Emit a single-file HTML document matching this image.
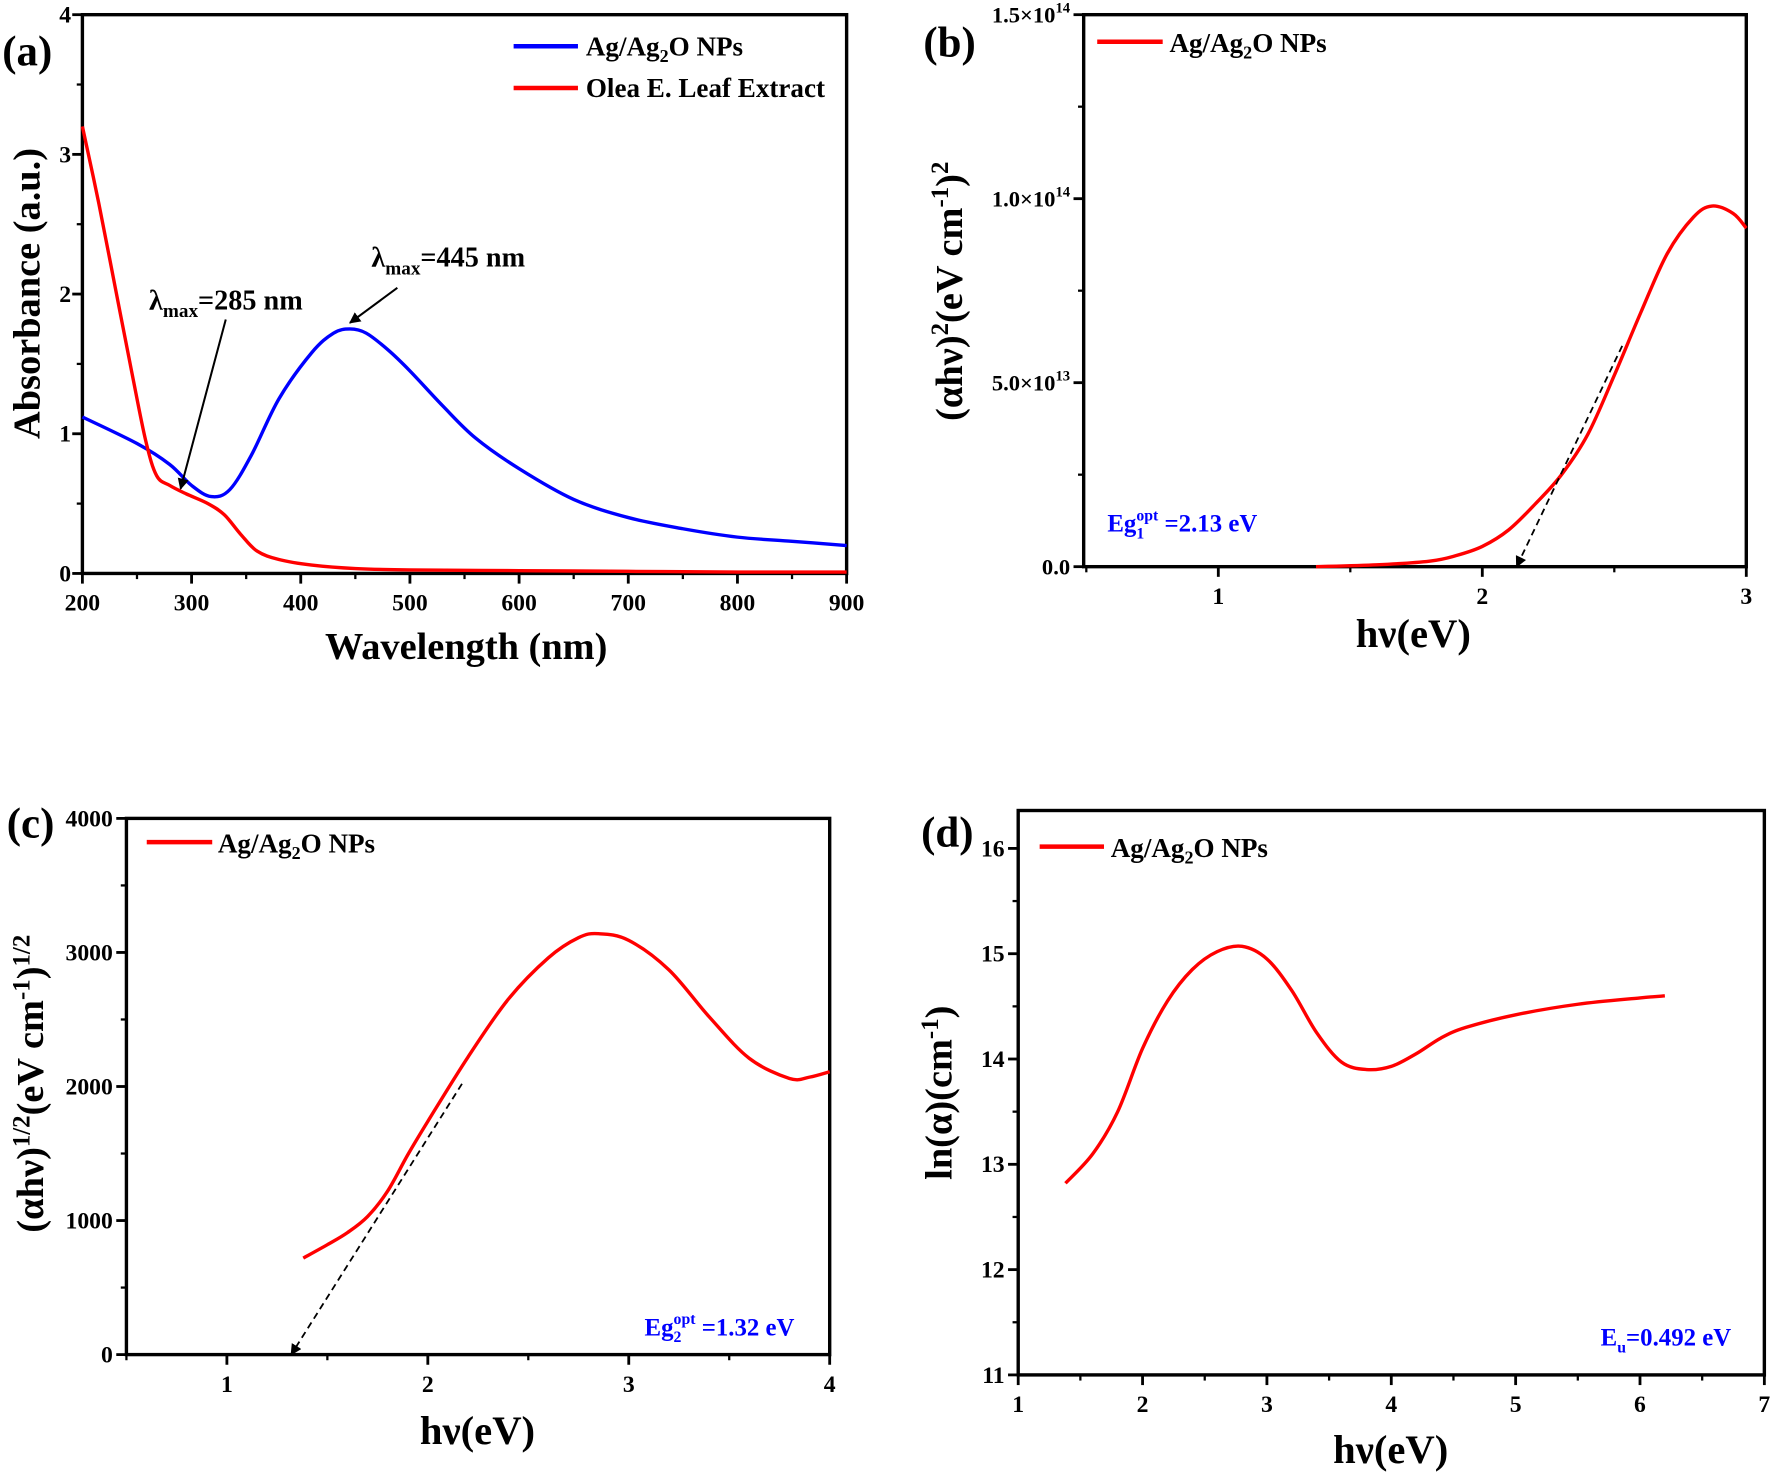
<!DOCTYPE html>
<html><head><meta charset="utf-8"><style>
html,body{margin:0;padding:0;background:#fff}
svg{display:block}
text{font-family:"Liberation Serif",serif;font-weight:bold;fill:#000}
</style></head><body>
<svg id="fig" width="1770" height="1472" viewBox="0 0 1568 1304" xmlns="http://www.w3.org/2000/svg">
<defs>
<marker id="arr" markerWidth="10" markerHeight="10" refX="9" refY="5" orient="auto" markerUnits="userSpaceOnUse"><path d="M0,0 L10,5 L0,10 z" fill="#000"/></marker>
</defs>
</svg>
<script>
// Panel (a) data
const aBlueX=[200,250,280,300,318,335,355,380,410,430,445,460,480,500,530,560,600,650,700,750,800,850,900];
const aBlueY=[1.12,0.93,0.78,0.63,0.55,0.6,0.85,1.25,1.58,1.72,1.75,1.72,1.6,1.45,1.2,0.97,0.75,0.53,0.4,0.32,0.26,0.23,0.2];
const aRedX=[200,215,230,245,258,268,280,295,315,330,345,360,380,410,450,500,600,700,800,900];
const aRedY=[3.2,2.65,2.05,1.45,0.95,0.7,0.63,0.57,0.5,0.42,0.28,0.16,0.1,0.06,0.035,0.025,0.02,0.015,0.01,0.01];
const aXTicks=[200,300,400,500,600,700,800,900];
const aYTicks=[0,1,2,3,4];
// Panel (b) data (units 1e14)
const bX=[1.37,1.6,1.8,1.9,2.0,2.1,2.2,2.3,2.4,2.5,2.6,2.7,2.8,2.87,2.95,3.0];
const bY=[0,0.005,0.015,0.03,0.055,0.1,0.17,0.25,0.36,0.52,0.69,0.85,0.95,0.98,0.96,0.92];
const bXTicks=[1,2,3];
const bYTicks=[0,0.5,1.0,1.5];
const bYLabels=["0.0","5.0×10","1.0×10","1.5×10"];
const bYExp=["","13","14","14"];
// Panel (c) data
const cX=[1.38,1.5,1.6,1.7,1.8,1.9,2.0,2.2,2.4,2.6,2.75,2.85,3.0,3.2,3.4,3.6,3.8,3.9,4.0];
const cY=[720,820,910,1030,1220,1490,1740,2220,2650,2960,3110,3140,3090,2870,2520,2210,2060,2070,2110];
const cXTicks=[1,2,3,4];
const cYTicks=[0,1000,2000,3000,4000];
// Panel (d) data
const dX=[1.38,1.6,1.8,2.0,2.2,2.4,2.6,2.8,3.0,3.2,3.4,3.6,3.8,4.0,4.2,4.4,4.6,5.0,5.5,6.0,6.2];
const dY=[12.82,13.1,13.5,14.1,14.55,14.85,15.02,15.07,14.95,14.65,14.25,13.97,13.9,13.93,14.05,14.2,14.3,14.42,14.52,14.58,14.6];
const dXTicks=[1,2,3,4,5,6,7];
const dYTicks=[11,12,13,14,15,16];

const svg=document.getElementById('fig');
const NS='http://www.w3.org/2000/svg';
function mk(tag,attrs,parent){const e=document.createElementNS(NS,tag);for(const k in attrs)e.setAttribute(k,attrs[k]);(parent||svg).appendChild(e);return e;}
function scale(d0,d1,r0,r1){return v=>r0+(v-d0)/(d1-d0)*(r1-r0);}
function smooth(xs,ys,sx,sy){
  const p=xs.map((x,i)=>[sx(x),sy(ys[i])]);
  let d='M'+p[0][0]+','+p[0][1];
  for(let i=0;i<p.length-1;i++){
    const p0=p[Math.max(0,i-1)],p1=p[i],p2=p[i+1],p3=p[Math.min(p.length-1,i+2)];
    const c1=[p1[0]+(p2[0]-p0[0])/6,p1[1]+(p2[1]-p0[1])/6];
    const c2=[p2[0]-(p3[0]-p1[0])/6,p2[1]-(p3[1]-p1[1])/6];
    d+=' C'+c1+' '+c2+' '+p2;
  }
  return d;
}
function panel(name,L,R,T,B,xd,yd,xt,yt,xminor,yminor){
  const g=mk('g',{});
  
  
  const sx=scale(xd[0],xd[1],L,R), sy=scale(yd[0],yd[1],B,T);
  const box=mk('rect',{x:L,y:T,width:R-L,height:B-T,fill:'none',stroke:'#000','stroke-width':3},g);
  
  
  xt.forEach((v,i)=>{const x=sx(v);mk('line',{x1:x,x2:x,y1:B,y2:B+9,stroke:'#000','stroke-width':2.5},g);
    if(i<xt.length-1&&xminor){const m=sx(v+(xt[i+1]-v)/2);mk('line',{x1:m,x2:m,y1:B,y2:B+5,stroke:'#000','stroke-width':2},g);}});
  if(xminor&&xd[0]<xt[0]){const m=sx(xt[0]-(xt[1]-xt[0])/2);if(m>=L)mk('line',{x1:m,x2:m,y1:B,y2:B+5,stroke:'#000','stroke-width':2},g);}
  yt.forEach((v,i)=>{const y=sy(v);mk('line',{x1:L-9,x2:L,y1:y,y2:y,stroke:'#000','stroke-width':2.5},g);
    if(i<yt.length-1&&yminor){const m=sy(v+(yt[i+1]-v)/2);mk('line',{x1:L-5,x2:L,y1:m,y2:m,stroke:'#000','stroke-width':2},g);}});
  return {g,sx,sy};
}
function txt(s,x,y,size,anchor,parent,name,fill){const t=mk('text',{x:x,y:y,'font-size':size,'text-anchor':anchor||'middle'},parent);if(fill)t.setAttribute('style','fill:'+fill);t.innerHTML=s;return t;}
function curve(P,xs,ys,color,name){const p=mk('path',{d:smooth(xs,ys,P.sx,P.sy),fill:'none',stroke:color,'stroke-width':3},P.g);return p;}

// ---- Panel a
const A=panel('panel-a',73,750,13,508,[200,900],[0,4],aXTicks,aYTicks,true,true);
curve(A,aBlueX,aBlueY,'#0000ff','series-ag-ag2o');
curve(A,aRedX,aRedY,'#ff0000','series-leaf-extract');
aXTicks.forEach(v=>txt(v,A.sx(v),541,21,'middle',A.g,'x-tick-label'));
aYTicks.forEach(v=>txt(v,A.sx(200)-10,A.sy(v)+7,21,'end',A.g,'y-tick-label'));
txt('Wavelength (nm)',413,584,34,'middle',A.g,'x-axis-title');
txt('Absorbance (a.u.)',0,0,34,'middle',A.g,'y-axis-title').setAttribute('transform','translate(35,260) rotate(-90)');
txt('(a)',2,58,38,'start',A.g,'panel-label');
mk('line',{x1:455,x2:512,y1:41,y2:41,stroke:'#0000ff','stroke-width':4},A.g);
txt('Ag/Ag<tspan font-size="16" dy="6">2</tspan><tspan dy="-6">O NPs</tspan>',519,49,24,'start',A.g,'legend-ag');
mk('line',{x1:455,x2:512,y1:78,y2:78,stroke:'#ff0000','stroke-width':4},A.g);
txt('Olea E. Leaf Extract',519,86,24,'start',A.g,'legend-leaf');
txt('λ<tspan font-size="17" dy="7">max</tspan><tspan dy="-7">=445 nm</tspan>',329,236,25,'start',A.g,'annotation-445');
txt('λ<tspan font-size="17" dy="7">max</tspan><tspan dy="-7">=285 nm</tspan>',132,274,25,'start',A.g,'annotation-285');
mk('line',{x1:352,x2:310,y1:255,y2:286,stroke:'#000','stroke-width':1.8,'marker-end':'url(#arr)'},A.g);
mk('line',{x1:200,x2:160,y1:283,y2:433,stroke:'#000','stroke-width':1.8,'marker-end':'url(#arr)'},A.g);

// ---- Panel b
const Bp=panel('panel-b',960,1547,13,502,[0.49,3],[0,1.5],bXTicks,bYTicks,true,true);
curve(Bp,bX,bY,'#ff0000','series-tauc-direct');
mk('line',{x1:Bp.sx(2.53),y1:Bp.sy(0.6),x2:Bp.sx(2.13),y2:Bp.sy(0),stroke:'#000','stroke-width':1.6,'stroke-dasharray':'6,4','marker-end':'url(#arr)'},Bp.g);
bXTicks.forEach(v=>txt(v,Bp.sx(v),535,21,'middle',Bp.g,'x-tick-label'));
bYTicks.forEach((v,i)=>txt(bYLabels[i]+(bYExp[i]?'<tspan font-size="13" dy="-9">'+bYExp[i]+'</tspan>':''),948,Bp.sy(v)+7,20,'end',Bp.g,'y-tick-label'));
txt('hν(eV)',1252,573,36,'middle',Bp.g,'x-axis-title');
txt('(αhν)<tspan font-size="22" dy="-12">2</tspan><tspan dy="12">(eV cm</tspan><tspan font-size="22" dy="-12">-1</tspan><tspan dy="12">)</tspan><tspan font-size="22" dy="-12">2</tspan>',0,0,34,'middle',Bp.g,'y-axis-title').setAttribute('transform','translate(852,258) rotate(-90)');
txt('(b)',818,50,38,'start',Bp.g,'panel-label');
mk('line',{x1:972,x2:1030,y1:37,y2:37,stroke:'#ff0000','stroke-width':4},Bp.g);
txt('Ag/Ag<tspan font-size="16" dy="6">2</tspan><tspan dy="-6">O NPs</tspan>',1036,46,24,'start',Bp.g,'legend-ag');
txt('Eg<tspan font-size="14" dy="6">1</tspan><tspan font-size="14" dx="-7" dy="-16">opt</tspan><tspan dy="10"> =2.13 eV</tspan>',981,471,22,'start',Bp.g,'annotation-eg1','#0000ff');

// ---- Panel c
const C=panel('panel-c',112,735,725,1200,[0.5,4],[0,4000],cXTicks,cYTicks,true,true);
curve(C,cX,cY,'#ff0000','series-tauc-indirect');
mk('line',{x1:C.sx(2.17),y1:C.sy(2020),x2:C.sx(1.32),y2:C.sy(0),stroke:'#000','stroke-width':1.6,'stroke-dasharray':'6,4','marker-end':'url(#arr)'},C.g);
cXTicks.forEach(v=>txt(v,C.sx(v),1233,21,'middle',C.g,'x-tick-label'));
cYTicks.forEach(v=>txt(v,100,C.sy(v)+7,21,'end',C.g,'y-tick-label'));
txt('hν(eV)',423,1279,36,'middle',C.g,'x-axis-title');
txt('(αhν)<tspan font-size="22" dy="-12">1/2</tspan><tspan dy="12">(eV cm</tspan><tspan font-size="22" dy="-12">-1</tspan><tspan dy="12">)</tspan><tspan font-size="22" dy="-12">1/2</tspan>',0,0,34,'middle',C.g,'y-axis-title').setAttribute('transform','translate(38,960) rotate(-90)');
txt('(c)',6,742,38,'start',C.g,'panel-label');
mk('line',{x1:130,x2:188,y1:746,y2:746,stroke:'#ff0000','stroke-width':4},C.g);
txt('Ag/Ag<tspan font-size="16" dy="6">2</tspan><tspan dy="-6">O NPs</tspan>',193,755,24,'start',C.g,'legend-ag');
txt('Eg<tspan font-size="14" dy="6">2</tspan><tspan font-size="14" dx="-7" dy="-16">opt</tspan><tspan dy="10"> =1.32 eV</tspan>',571,1183,22,'start',C.g,'annotation-eg2','#0000ff');

// ---- Panel d
const D=panel('panel-d',902,1563,718,1218,[1,7],[11,16.36],dXTicks,dYTicks,true,true);
curve(D,dX,dY,'#ff0000','series-ln-alpha');
dXTicks.forEach(v=>txt(v,D.sx(v),1251,21,'middle',D.g,'x-tick-label'));
dYTicks.forEach(v=>txt(v,890,D.sy(v)+7,21,'end',D.g,'y-tick-label'));
txt('hν(eV)',1232,1296,36,'middle',D.g,'x-axis-title');
txt('ln(α)(cm<tspan font-size="22" dy="-12">-1</tspan><tspan dy="12">)</tspan>',0,0,34,'middle',D.g,'y-axis-title').setAttribute('transform','translate(843,968) rotate(-90)');
txt('(d)',816,750,38,'start',D.g,'panel-label');
mk('line',{x1:921,x2:978,y1:750,y2:750,stroke:'#ff0000','stroke-width':4},D.g);
txt('Ag/Ag<tspan font-size="16" dy="6">2</tspan><tspan dy="-6">O NPs</tspan>',984,759,24,'start',D.g,'legend-ag');
txt('E<tspan font-size="14" dy="6">u</tspan><tspan dy="-6">=0.492 eV</tspan>',1418,1192,22,'start',D.g,'annotation-eu','#0000ff');
</script>
</body></html>
